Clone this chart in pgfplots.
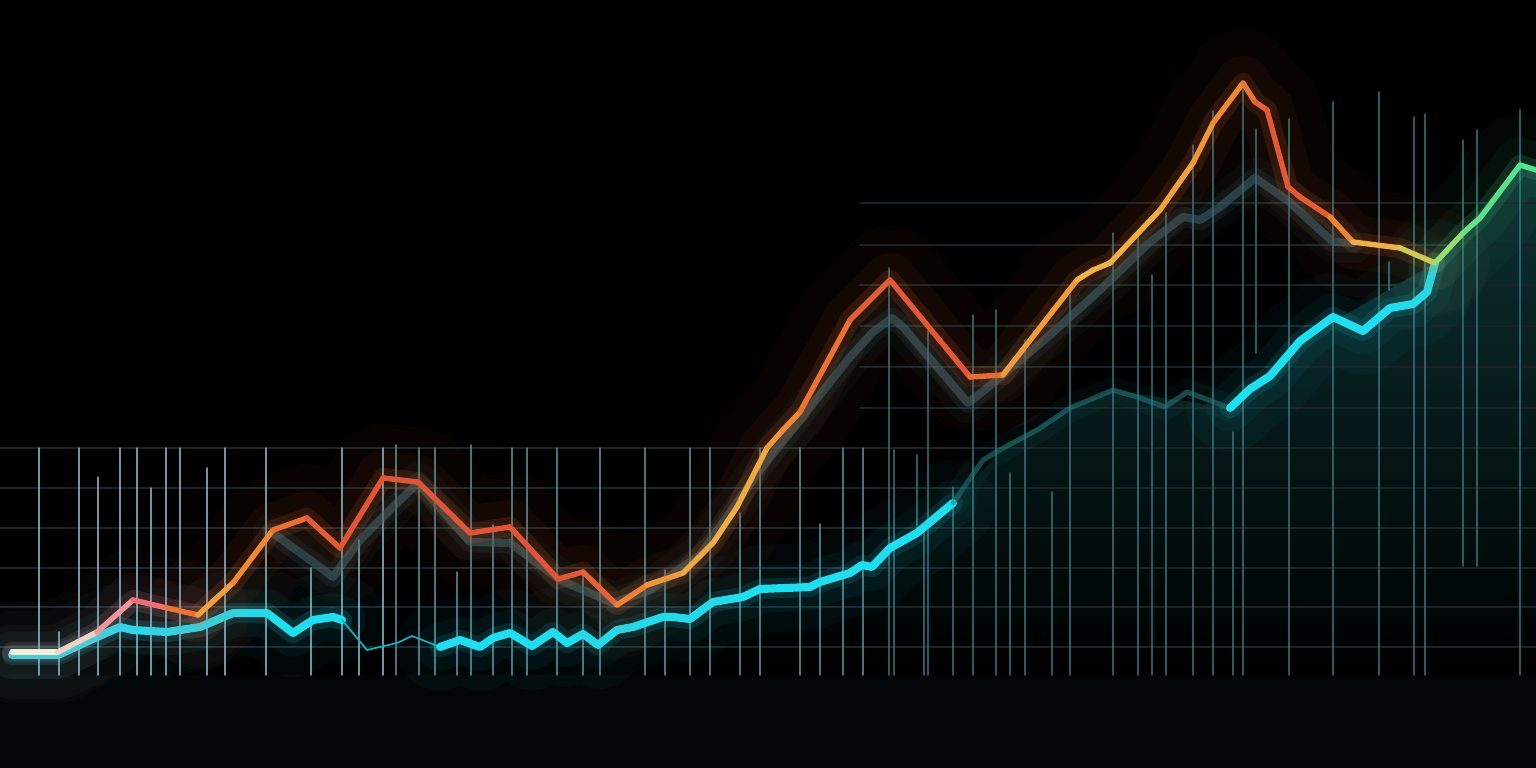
\documentclass[border=0pt]{standalone}
\usepackage{pgfplots}
\usepackage{pgfplotstable}
\pgfplotsset{compat=1.18}
\definecolor{cyanline}{RGB}{32,222,240}
\definecolor{fadeline}{RGB}{58,100,112}
\definecolor{dimteal}{RGB}{40,125,128}
\definecolor{gridh}{RGB}{26,36,40}
\definecolor{gridhu}{RGB}{22,34,37}
\definecolor{vleft}{RGB}{150,200,215}
\definecolor{vmid}{RGB}{90,145,155}
\definecolor{vright}{RGB}{55,112,118}
\definecolor{tealarea}{RGB}{14,56,58}
\definecolor{band}{RGB}{3,6,8}
\definecolor{glowpink}{RGB}{240,130,140}
\definecolor{gloworange}{RGB}{230,105,45}
\definecolor{glowgreen}{RGB}{80,220,140}

\pgfplotstableread{
x y c
12 652 0
58 652 0
97 632 0.5
133 600 1
167 608 1.5
198 615 3.8
233 583 3.4
273 530 2.9
307 518 2.3
340 548 2
383 478 2
418 482 2
470 533 2
510 527 2
558 579 2
583 572 2
617 605 2.6
647 585 3.3
683 573 3.6
713 543 3.8
737 507 4
767 448 3.6
783 430 3.3
800 412 3
850 320 2.3
890 280 2.1
970 377 2
1003 375 3
1077 280 4
1093 270 4
1110 263 4
1160 210 3.8
1193 163 3.5
1213 123 3.3
1243 83 3
1255 102 2.4
1267 110 2.1
1288 187 2
1300 197 2
1330 217 2.3
1353 242 3.8
1400 248 4
1435 263 5
1463 233 5.6
1480 218 5.8
1520 165 6
1536 170 6
}\orange

\pgfplotstableread{
x y
12 655
58 655
97 637
120 627
133 630
167 632
200 627
233 613
267 613
293 633
313 620
333 617
342 620
}\cyanA

\pgfplotstableread{
x y
342 620
367 650
397 643
412 636
440 647
}\cyanB

\pgfplotstableread{
x y
440 647
460 640
480 647
493 638
510 633
532 646
553 632
567 643
583 634
598 645
617 630
633 627
663 617
673 617
690 619
713 602
743 597
760 589
810 587
820 582
850 573
862 565
872 567
890 548
917 533
953 503
}\cyanC

\pgfplotstableread{
x y
953 503
983 460
1003 448
1037 430
1070 408
1113 390
1137 397
1165 407
1187 392
1230 408
}\cyanD

\pgfplotstableread{
x y
1230 408
1250 389
1270 376
1300 341
1333 317
1363 331
1390 308
1413 304
1427 292
1435 263
}\cyanE

\pgfplotstableread{
x y
273 533
310 560
333 577
360 540
400 500
418 483
470 542
510 543
560 580
613 603
650 590
700 555
760 470
800 420
850 357
873 332
892 318
903 327
968 403
997 380
1050 335
1100 290
1150 242
1183 217
1200 220
1220 207
1255 178
1287 200
1333 242
1353 243
}\fade

\begin{document}
\begin{tikzpicture}
\begin{axis}[
  scale only axis, width=16cm, height=8cm,
  xmin=0, xmax=1536, ymin=0, ymax=768, y dir=reverse,
  axis line style={draw=none}, xtick=\empty, ytick=\empty,
  axis background/.style={fill=black},
  unbounded coords=jump,
  colormap={glow}{rgb255(0)=(240,240,215) rgb255(1)=(240,120,135) rgb255(2)=(225,85,55) rgb255(3)=(238,130,50) rgb255(4)=(240,180,70) rgb255(5)=(175,220,100) rgb255(6)=(80,225,145)},
  point meta min=0, point meta max=6,
  every axis plot/.append style={line cap=round, line join=round},
]
% bottom band
\addplot[draw=none, fill=band] coordinates {(0,675) (1536,675) (1536,768) (0,768)} --cycle;
% teal area on the right
\addplot[draw=none, top color=tealarea, bottom color=black, fill opacity=0.9] coordinates {
(560,675) (600,645) (700,610) (850,573) (953,503) (1003,448) (1070,408) (1113,390) (1230,408) (1300,341) (1435,263) (1520,165) (1536,170) (1536,675)} --cycle;
% horizontal grid
\addplot[gridh, line width=0.5pt] coordinates {
(0,448) (1536,448) (0,nan)
(0,488) (1536,488) (0,nan)
(0,528) (1536,528) (0,nan)
(0,568) (1536,568) (0,nan)
(0,607) (1536,607) (0,nan)
(0,647) (1536,647)};
\addplot[gridhu, line width=0.5pt] coordinates {
(860,203) (1536,203) (0,nan)
(860,245) (1536,245) (0,nan)
(860,285) (1536,285) (0,nan)
(860,326) (1536,326) (0,nan)
(860,367) (1536,367) (0,nan)
(860,408) (1536,408)};
% vertical grid, left
\addplot[vleft, line width=0.5pt, opacity=0.75] coordinates {
(39,675) (39,448) (0,nan)
(59,675) (59,632) (0,nan)
(79,675) (79,448) (0,nan)
(98,675) (98,477) (0,nan)
(120,675) (120,448) (0,nan)
(137,675) (137,448) (0,nan)
(151,675) (151,488) (0,nan)
(166,675) (166,448) (0,nan)
(180,675) (180,448) (0,nan)
(207,675) (207,468) (0,nan)
(225,675) (225,448) (0,nan)
(266,675) (266,448) (0,nan)
(311,675) (311,568) (0,nan)
(342,675) (342,448) (0,nan)
(359,675) (359,540) (0,nan)
(383,675) (383,448)};
% vertical grid, middle
\addplot[vmid, line width=0.5pt, opacity=0.8] coordinates {
(396,675) (396,445) (0,nan)
(419,675) (419,448) (0,nan)
(435,675) (435,448) (0,nan)
(457,675) (457,572) (0,nan)
(471,675) (471,445) (0,nan)
(493,675) (493,525) (0,nan)
(512,675) (512,448) (0,nan)
(527,675) (527,448) (0,nan)
(557,675) (557,448) (0,nan)
(583,675) (583,570) (0,nan)
(600,675) (600,448) (0,nan)
(645,675) (645,448) (0,nan)
(665,675) (665,570) (0,nan)
(690,675) (690,448) (0,nan)
(710,675) (710,448) (0,nan)
(740,675) (740,513) (0,nan)
(760,675) (760,448) (0,nan)
(800,675) (800,448) (0,nan)
(820,675) (820,524) (0,nan)
(843,675) (843,448) (0,nan)
(863,675) (863,448)};
% vertical grid, right
\addplot[vright, line width=0.5pt, opacity=0.8] coordinates {
(889,675) (889,268) (0,nan)
(894,675) (894,450) (0,nan)
(917,533) (917,455) (0,nan)
(924,675) (924,530) (0,nan)
(928,675) (928,330) (0,nan)
(953,675) (953,487) (0,nan)
(973,675) (973,315) (0,nan)
(996,675) (996,310) (0,nan)
(1010,675) (1010,473) (0,nan)
(1025,675) (1025,340) (0,nan)
(1052,675) (1052,492) (0,nan)
(1070,675) (1070,295) (0,nan)
(1113,675) (1113,233) (0,nan)
(1138,675) (1138,235) (0,nan)
(1152,675) (1152,275) (0,nan)
(1166,675) (1166,213) (0,nan)
(1193,675) (1193,145) (0,nan)
(1213,675) (1213,111) (0,nan)
(1233,675) (1233,432) (0,nan)
(1243,675) (1243,83) (0,nan)
(1256,353) (1256,129) (0,nan)
(1289,675) (1289,119) (0,nan)
(1333,675) (1333,102) (0,nan)
(1379,675) (1379,92) (0,nan)
(1389,290) (1389,262) (0,nan)
(1414,675) (1414,117) (0,nan)
(1425,675) (1425,114) (0,nan)
(1463,566) (1463,140) (0,nan)
(1477,566) (1477,130) (0,nan)
(1520,675) (1520,110)};
% faded middle line
\addplot[fadeline, line width=12pt, opacity=0.08] table {\fade};
\addplot[fadeline, line width=6pt, opacity=0.15] table {\fade};
\addplot[fadeline, line width=2.4pt, opacity=0.55] table {\fade};
% cyan glow
\addplot[cyanline, line width=26pt, opacity=0.035] table {\cyanA};
\addplot[cyanline, line width=26pt, opacity=0.035] table {\cyanC};
\addplot[cyanline, line width=26pt, opacity=0.035] table {\cyanE};
\addplot[cyanline, line width=14pt, opacity=0.06] table {\cyanA};
\addplot[cyanline, line width=14pt, opacity=0.05] table {\cyanC};
\addplot[cyanline, line width=14pt, opacity=0.05] table {\cyanE};
\addplot[cyanline, line width=6pt, opacity=0.15] table {\cyanA};
\addplot[cyanline, line width=6pt, opacity=0.12] table {\cyanC};
\addplot[cyanline, line width=6pt, opacity=0.12] table {\cyanE};
\addplot[dimteal, line width=8pt, opacity=0.08] table {\cyanD};
% cyan lines
\addplot[cyanline, line width=2.4pt] table {\cyanA};
\addplot[cyanline!80!black, line width=0.5pt] table {\cyanB};
\addplot[cyanline, line width=2.4pt] table {\cyanC};
\addplot[dimteal, line width=1.5pt, opacity=0.55] table {\cyanD};
\addplot[cyanline, line width=2.4pt] table {\cyanE};
% orange glow
\addplot[glowpink, line width=30pt, opacity=0.03, restrict x to domain=0:198] table[x=x,y=y] {\orange};
\addplot[gloworange, line width=32pt, opacity=0.035, restrict x to domain=198:1435] table[x=x,y=y] {\orange};
\addplot[glowgreen, line width=30pt, opacity=0.03, restrict x to domain=1435:1536] table[x=x,y=y] {\orange};
\addplot[glowpink, line width=16pt, opacity=0.05, restrict x to domain=0:198] table[x=x,y=y] {\orange};
\addplot[gloworange, line width=16pt, opacity=0.05, restrict x to domain=198:1435] table[x=x,y=y] {\orange};
\addplot[glowgreen, line width=16pt, opacity=0.05, restrict x to domain=1435:1536] table[x=x,y=y] {\orange};
\addplot[glowpink, line width=6pt, opacity=0.14, restrict x to domain=0:198] table[x=x,y=y] {\orange};
\addplot[gloworange, line width=6pt, opacity=0.14, restrict x to domain=198:1435] table[x=x,y=y] {\orange};
\addplot[glowgreen, line width=6pt, opacity=0.14, restrict x to domain=1435:1536] table[x=x,y=y] {\orange};
% main multicoloured line
\addplot[mesh, line width=1.6pt, point meta=explicit] table[x=x,y=y,meta=c] {\orange};
\end{axis}
\end{tikzpicture}
\end{document}
